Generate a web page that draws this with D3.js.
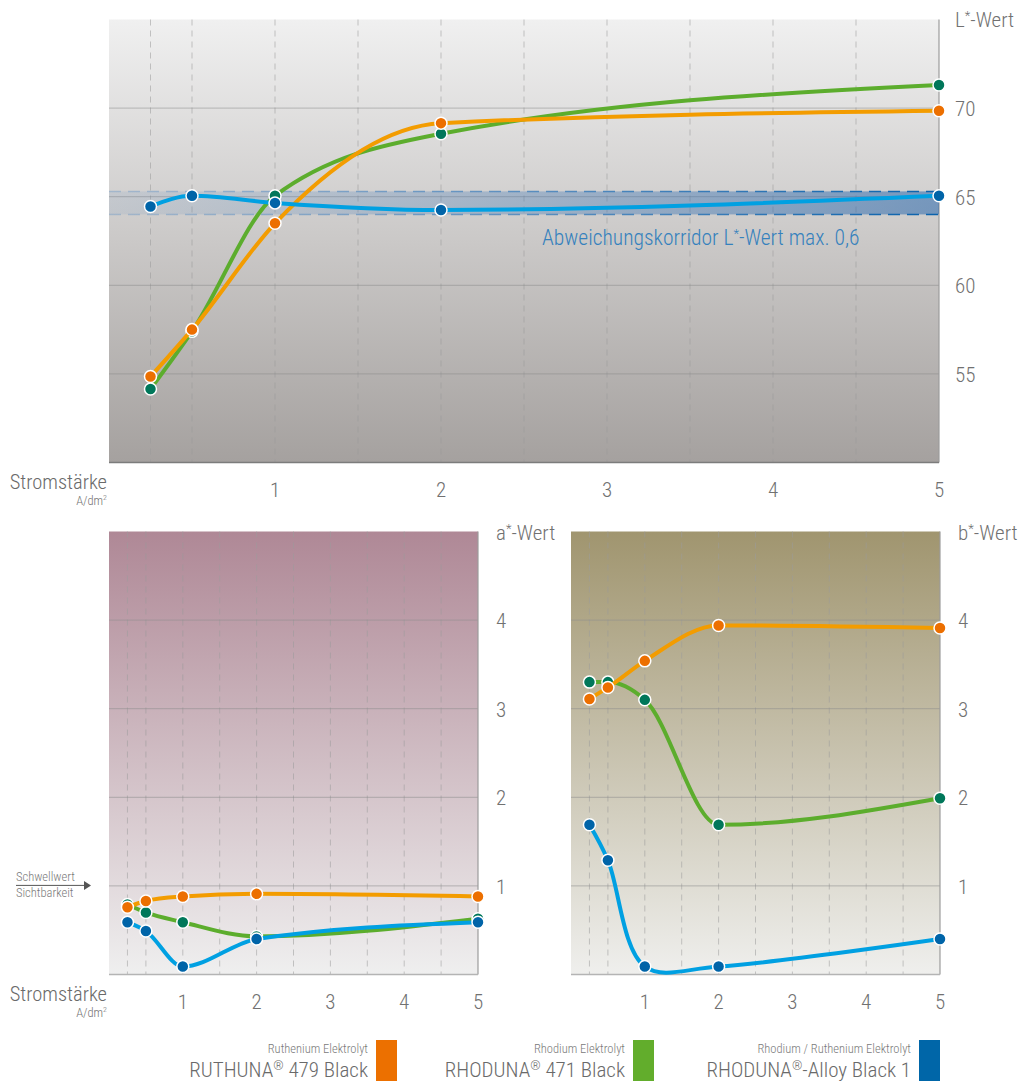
<!DOCTYPE html>
<html>
  <head>
    <title>L*a*b* Werte</title>
    <script src="https://d3js.org/d3.v7.min.js"></script>
    <style>
      body { margin: 0; background: #fff; }
      svg text {
        font-family: "Liberation Sans Narrow", "Roboto Condensed", "DejaVu Sans Condensed", Roboto, sans-serif;
        font-weight: 300;
        fill: #717171;
      }
      .tick-label { font-size: 21px; }
      .axis-title { font-size: 21px; }
      .strom { font-size: 20.5px; fill: #6a6a6a; }
      .unit { font-size: 12.5px; }
      .grid-h { stroke: #8d8d8d; stroke-opacity: 0.55; stroke-width: 1; }
      .grid-v { stroke: #9a9a9a; stroke-opacity: 0.55; stroke-width: 1; stroke-dasharray: 6,5; }
      .series-line { fill: none; stroke-width: 4; stroke-linecap: round; }
      .dot { stroke: #fff; stroke-width: 1.5; }
      .legend-sub { font-size: 12.5px; fill: #7a7a7a; }
      .legend-name { font-size: 21px; fill: #6a6a6a; }
      .corridor-label { font-size: 21.5px; fill: #3581bd; }
    </style>
  </head>
  <body>
    <svg width="1027" height="1084"></svg>
    <script>
      // Stromstärke (A/dm²) der Messpunkte
      const currents = [0.25, 0.5, 1, 2, 5];
      const xTickValues = [1, 2, 3, 4, 5];
      const xGridValues = [0.25, 0.5, 1, 1.5, 2, 2.5, 3, 3.5, 4, 4.5];

      // L*-Wert
      const lRuthuna = [54.85, 57.5, 63.5, 69.15, 69.85];
      const lRhoduna = [54.15, 57.4, 65.05, 68.55, 71.3];
      const lAlloy = [64.45, 65.05, 64.65, 64.25, 65.05];
      const lTicks = [55, 60, 65, 70];
      const corridor = [64.0, 65.3];

      // a*-Wert
      const aRuthuna = [0.76, 0.83, 0.88, 0.91, 0.88];
      const aRhoduna = [0.79, 0.70, 0.59, 0.43, 0.63];
      const aAlloy = [0.59, 0.49, 0.09, 0.40, 0.59];
      const abTicks = [1, 2, 3, 4];
      const threshold = 1;

      // b*-Wert
      const bRuthuna = [3.11, 3.24, 3.54, 3.94, 3.91];
      const bRhoduna = [3.30, 3.30, 3.10, 1.69, 1.99];
      const bAlloy = [1.69, 1.29, 0.09, 0.09, 0.40];

      const legendSub = ["Ruthenium Elektrolyt", "Rhodium Elektrolyt", "Rhodium / Ruthenium Elektrolyt"];
      const legendName = [["RUTHUNA", " 479 Black"], ["RHODUNA", " 471 Black"], ["RHODUNA", "-Alloy Black 1"]];

      const colors = {
        ruthuna: {line: "#f39c00", dot: "#ec6f00", legend: "#ec7000"},
        rhoduna: {line: "#5cad2d", dot: "#00775a", legend: "#62ad2c"},
        alloy: {line: "#00a0e2", dot: "#0064a8", legend: "#0066a8"}
      };

      const svg = d3.select("svg");
      const defs = svg.append("defs");

      function vGradient(id, top, bottom) {
        const g = defs.append("linearGradient").attr("id", id)
          .attr("x1", 0).attr("y1", 0).attr("x2", 0).attr("y2", 1);
        g.append("stop").attr("offset", "0%").attr("stop-color", top);
        g.append("stop").attr("offset", "100%").attr("stop-color", bottom);
      }
      vGradient("bgL", "#f0f0f0", "#a5a19f");
      vGradient("bgA", "#af8896", "#efefef");
      vGradient("bgB", "#a0956f", "#efefed");

      const corrFill = defs.append("linearGradient").attr("id", "corrFill");
      corrFill.append("stop").attr("offset", "0%").attr("stop-color", "#4a80bd").attr("stop-opacity", 0.1);
      corrFill.append("stop").attr("offset", "100%").attr("stop-color", "#2a68ad").attr("stop-opacity", 0.55);
      const corrStroke = defs.append("linearGradient").attr("id", "corrStroke");
      corrStroke.append("stop").attr("offset", "0%").attr("stop-color", "#4a86c4").attr("stop-opacity", 0.3);
      corrStroke.append("stop").attr("offset", "100%").attr("stop-color", "#0a62ac").attr("stop-opacity", 1);

      // text with a raised middle part (L*, ®, dm²)
      function supText(sel, parts, supSize, rise) {
        sel.append("tspan").text(parts[0]);
        sel.append("tspan").attr("dy", -rise).attr("font-size", supSize).text(parts[1]);
        sel.append("tspan").attr("dy", rise).text(parts[2]);
      }

      function drawPanel(cfg) {
        const x = d3.scaleLinear().domain([0, 5]).range([cfg.left, cfg.right]);
        const y = d3.scaleLinear().domain(cfg.yDomain).range([cfg.bottom, cfg.top]);
        const g = svg.append("g");

        g.append("rect")
          .attr("x", cfg.left).attr("y", cfg.top)
          .attr("width", cfg.right - cfg.left).attr("height", cfg.bottom - cfg.top)
          .attr("fill", `url(#${cfg.bg})`);

        g.selectAll(".grid-v").data(xGridValues).enter().append("line")
          .attr("class", "grid-v")
          .attr("x1", d => x(d)).attr("x2", d => x(d))
          .attr("y1", cfg.top).attr("y2", cfg.bottom);

        g.selectAll(".grid-h").data(cfg.yTicks).enter().append("line")
          .attr("class", "grid-h")
          .attr("x1", cfg.left).attr("x2", cfg.right)
          .attr("y1", d => y(d)).attr("y2", d => y(d));

        // Rahmen rechts und unten
        g.append("line").attr("x1", cfg.right).attr("x2", cfg.right)
          .attr("y1", cfg.top).attr("y2", cfg.bottom)
          .attr("stroke", "#9c9c9c").attr("stroke-width", 1.2);
        g.append("line").attr("x1", cfg.left).attr("x2", cfg.right)
          .attr("y1", cfg.bottom).attr("y2", cfg.bottom)
          .attr("stroke", cfg.axisColor).attr("stroke-width", 1.5);

        if (cfg.extra) cfg.extra(g, x, y);

        cfg.series.forEach(s => {
          const line = d3.line()
            .x((d, i) => x(currents[i]))
            .y(d => y(d))
            .curve(s.curve || d3.curveMonotoneX);
          g.append("path").datum(s.values)
            .attr("class", "series-line")
            .attr("stroke", s.color.line)
            .attr("d", line);
          g.selectAll(null).data(s.values).enter().append("circle")
            .attr("class", "dot")
            .attr("cx", (d, i) => x(currents[i]))
            .attr("cy", d => y(d))
            .attr("r", 6)
            .attr("fill", s.color.dot);
        });

        g.selectAll(".xt").data(xTickValues).enter().append("text")
          .attr("class", "tick-label")
          .attr("x", d => x(d)).attr("y", cfg.bottom + 34)
          .attr("text-anchor", "middle")
          .text(d => d);

        g.selectAll(".yt").data(cfg.yTicks).enter().append("text")
          .attr("class", "tick-label")
          .attr("x", cfg.right + cfg.labelGap).attr("y", d => y(d) + 8)
          .text(d => d);

        const t = g.append("text").attr("class", "axis-title")
          .attr("x", cfg.right + cfg.labelGap).attr("y", cfg.top + cfg.titleDy);
        supText(t, cfg.title, "13px", 7);

        if (cfg.strom) {
          g.append("text").attr("class", "strom")
            .attr("x", 107).attr("y", cfg.bottom + 26)
            .attr("text-anchor", "end").text("Stromstärke");
          const u = g.append("text").attr("class", "unit")
            .attr("x", 107).attr("y", cfg.bottom + 42)
            .attr("text-anchor", "end");
          supText(u, ["A/dm", "2", ""], "8px", 5);
        }
      }

      // L*-Wert Diagramm
      drawPanel({
        left: 109, right: 939, top: 19.5, bottom: 462.5,
        yDomain: [50, 75], yTicks: lTicks, bg: "bgL", axisColor: "#7c7c7c",
        labelGap: 16, titleDy: 7, title: ["L", "*", "-Wert"], strom: true,
        series: [
          {values: lRhoduna, color: colors.rhoduna},
          {values: lRuthuna, color: colors.ruthuna},
          {values: lAlloy, color: colors.alloy}
        ],
        extra: (g, x, y) => {
          g.append("rect")
            .attr("x", x(0)).attr("y", y(corridor[1]))
            .attr("width", x(5) - x(0)).attr("height", y(corridor[0]) - y(corridor[1]))
            .attr("fill", "url(#corrFill)");
          corridor.forEach(v => {
            g.append("line")
              .attr("x1", x(0)).attr("x2", x(5))
              .attr("y1", y(v)).attr("y2", y(v) + 0.01)
              .attr("stroke", "url(#corrStroke)")
              .attr("stroke-width", 1.5)
              .attr("stroke-dasharray", "12,7");
          });
          const lbl = g.append("text").attr("class", "corridor-label")
            .attr("x", 542).attr("y", y(corridor[0]) + 31);
          supText(lbl, ["Abweichungskorridor L", "*", "-Wert max. 0,6"], "13px", 7);
        }
      });

      // a*-Wert Diagramm
      drawPanel({
        left: 109, right: 478, top: 531.5, bottom: 974.5,
        yDomain: [0, 5], yTicks: abTicks, bg: "bgA", axisColor: "#b4b4b4",
        labelGap: 18, titleDy: 8, title: ["a", "*", "-Wert"], strom: true,
        series: [
          {values: aRhoduna, color: colors.rhoduna},
          {values: aRuthuna, color: colors.ruthuna},
          {values: aAlloy, color: colors.alloy}
        ],
        extra: (g, x, y) => {
          const ty = y(threshold) - 0.5;
          g.append("line").attr("x1", 16).attr("x2", 85)
            .attr("y1", ty).attr("y2", ty)
            .attr("stroke", "#555").attr("stroke-width", 1);
          g.append("path")
            .attr("d", `M84,${ty - 4.5}L91,${ty}L84,${ty + 4.5}Z`)
            .attr("fill", "#555");
          g.append("text").attr("class", "legend-sub")
            .attr("x", 16).attr("y", ty - 4).text("Schwellwert");
          g.append("text").attr("class", "legend-sub")
            .attr("x", 16).attr("y", ty + 12).text("Sichtbarkeit");
        }
      });

      // b*-Wert Diagramm
      drawPanel({
        left: 571, right: 940, top: 531.5, bottom: 974.5,
        yDomain: [0, 5], yTicks: abTicks, bg: "bgB", axisColor: "#b4b4b4",
        labelGap: 18, titleDy: 8, title: ["b", "*", "-Wert"], strom: false,
        series: [
          {values: bRhoduna, color: colors.rhoduna},
          {values: bRuthuna, color: colors.ruthuna},
          {values: bAlloy, color: colors.alloy, curve: d3.curveCatmullRom.alpha(0.5)}
        ]
      });

      // Legende
      const legendX = [376, 633, 919];
      const legendColors = [colors.ruthuna.legend, colors.rhoduna.legend, colors.alloy.legend];
      const lg = svg.append("g");
      legendSub.forEach((sub, i) => {
        lg.append("rect")
          .attr("x", legendX[i]).attr("y", 1040)
          .attr("width", 21).attr("height", 41)
          .attr("fill", legendColors[i]);
        lg.append("text").attr("class", "legend-sub")
          .attr("x", legendX[i] - 8).attr("y", 1053)
          .attr("text-anchor", "end").text(sub);
        const n = lg.append("text").attr("class", "legend-name")
          .attr("x", legendX[i] - 8).attr("y", 1077)
          .attr("text-anchor", "end");
        supText(n, [legendName[i][0], "®", legendName[i][1]], "13px", 7);
      });
    </script>
  </body>
</html>
